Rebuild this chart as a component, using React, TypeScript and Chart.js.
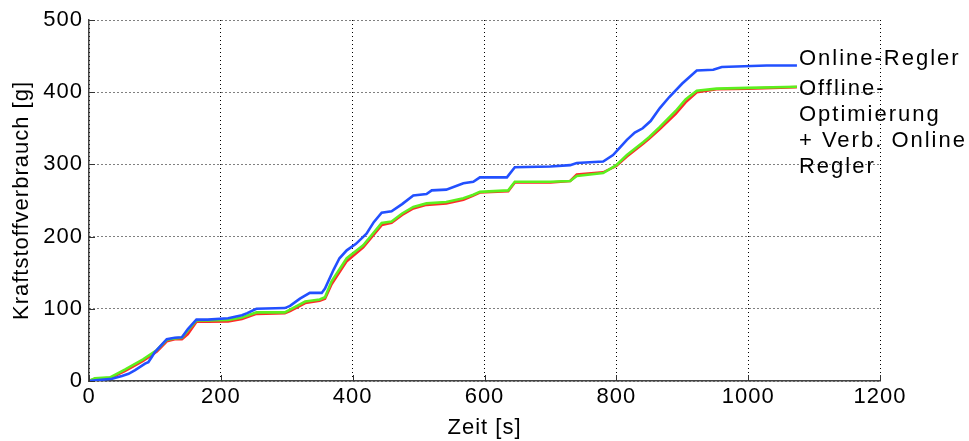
import React, { useEffect, useRef } from 'react';
import { Chart, registerables } from 'chart.js';

Chart.register(...registerables);

// Online-Regler (blue)
const timeOnline = [0, 10, 35, 50, 60, 70, 85, 90, 95, 100, 118, 130, 141, 150, 163, 180, 211, 232, 240, 254, 297, 305, 320, 335, 353, 358, 371, 380, 391, 405, 421, 432, 444, 459, 475, 492, 512, 520, 542, 568, 583, 593, 634, 646, 700, 730, 740, 780, 795, 806, 816, 828, 840, 852, 866, 880, 900, 922, 947, 960, 1028, 1074];
const fuelOnline = [0, 1, 3, 7, 10, 15, 24, 26, 33, 40, 58, 60, 60.5, 72, 85, 85, 87, 91, 94, 100, 101, 104, 114, 122, 122, 128, 154, 170, 181, 190, 204, 220, 233, 235, 245, 257, 259, 264, 265, 274, 276, 282, 282, 296, 297, 299, 302, 304, 313, 324, 334, 344, 350, 360, 378, 393, 412, 430, 431, 435, 437, 437];

// Offline-Optimierung (+ Verb. Online Regler) time base
const timeOffline = [0, 9, 32, 55, 82, 103, 118, 130, 141, 150, 163, 180, 211, 232, 254, 297, 305, 328, 350, 358, 368, 391, 416, 444, 459, 475, 492, 512, 542, 568, 583, 593, 636, 646, 700, 730, 740, 780, 800, 816, 841, 850, 866, 890, 905, 922, 952, 1000, 1074];
// green: Offline-Optimierung + Verb. Online Regler
const fuelOfflineVerb = [0, 3.7, 5, 16, 30, 43, 57, 59, 60, 70, 84, 84, 84.5, 88, 95, 95, 99, 110, 113, 116, 138, 170, 188, 219, 221, 232, 241, 246, 248, 253, 258, 262, 264, 276, 276, 277, 284, 288, 299, 313, 331, 338, 352, 374, 390, 402, 405, 406, 407.5];
// red: Offline-Optimierung
const fuelOffline = [0, 3, 4, 14, 28, 41, 55, 58, 58, 65, 82, 82, 82.5, 86, 93, 94, 97, 108, 111, 114, 134, 166, 185, 216, 219, 230, 239, 244, 246, 251, 257, 261, 263, 275, 275, 277, 286, 289, 298, 311, 329, 336, 349, 370, 386, 400, 404, 405, 407];

const xTicks = [0, 200, 400, 600, 800, 1000, 1200];
const yTicks = [0, 100, 200, 300, 400, 500];
const labelOnline = ['Online-Regler'];
const labelOfflineVerb = ['Offline-', 'Optimierung', '+ Verb. Online', 'Regler'];

const FONT = '"Liberation Sans", Arial, sans-serif';

const toPoints = (xs: number[], ys: number[]) => xs.map((x, i) => ({ x, y: ys[i] }));

const extras = {
  id: 'extras',
  beforeDraw(chart: any) {
    chart.ctx.letterSpacing = '1px';
  },
  afterDraw(chart: any) {
    const { ctx, chartArea } = chart;
    const xs = chart.scales.x;
    const ys = chart.scales.y;
    ctx.save();
    // inward ticks
    ctx.strokeStyle = '#333';
    ctx.lineWidth = 1;
    ctx.setLineDash([]);
    for (const t of xTicks) {
      const px = Math.round(xs.getPixelForValue(t)) + 0.5;
      ctx.beginPath();
      ctx.moveTo(px, chartArea.bottom);
      ctx.lineTo(px, chartArea.bottom - 6);
      ctx.stroke();
    }
    for (const t of yTicks) {
      const py = Math.round(ys.getPixelForValue(t)) + 0.5;
      ctx.beginPath();
      ctx.moveTo(chartArea.left, py);
      ctx.lineTo(chartArea.left + 6, py);
      ctx.stroke();
    }
    // text annotations at series ends
    ctx.font = `22px ${FONT}`;
    ctx.letterSpacing = '2px';
    ctx.fillStyle = '#000';
    ctx.textAlign = 'left';
    ctx.textBaseline = 'alphabetic';
    const bx = xs.getPixelForValue(timeOnline[timeOnline.length - 1]) + 2;
    const by = ys.getPixelForValue(fuelOnline[fuelOnline.length - 1]);
    labelOnline.forEach((s, i) => ctx.fillText(s, bx, by + i * 26));
    const gx = xs.getPixelForValue(timeOffline[timeOffline.length - 1]) + 2;
    const gy = ys.getPixelForValue(fuelOfflineVerb[fuelOfflineVerb.length - 1]) + 8;
    labelOfflineVerb.forEach((s, i) => ctx.fillText(s, gx, gy + i * 26));
    ctx.restore();
  },
};

export default function App() {
  const ref = useRef<HTMLCanvasElement | null>(null);
  useEffect(() => {
    document.body.style.margin = '0';
    const chart = new Chart(ref.current as HTMLCanvasElement, {
      type: 'line',
      data: {
        datasets: [
          {
            label: 'Online-Regler',
            data: toPoints(timeOnline, fuelOnline),
            borderColor: '#2250ff',
            borderWidth: 2.6,
            pointRadius: 0,
            tension: 0,
          },
          {
            label: 'Offline-Optimierung + Verb. Online Regler',
            data: toPoints(timeOffline, fuelOfflineVerb),
            borderColor: '#5cf01e',
            borderWidth: 2.6,
            pointRadius: 0,
            tension: 0,
          },
          {
            label: 'Offline-Optimierung',
            data: toPoints(timeOffline, fuelOffline),
            borderColor: '#ff2a2a',
            borderWidth: 2.6,
            pointRadius: 0,
            tension: 0,
          },
        ],
      },
      options: {
        animation: false,
        responsive: true,
        maintainAspectRatio: false,
        layout: { padding: { left: 0, right: 89, top: 20, bottom: 0 } },
        plugins: { legend: { display: false }, tooltip: { enabled: false } },
        scales: {
          x: {
            type: 'linear',
            min: 0,
            max: 1200,
            afterFit: (s: any) => { s.height = 60; },
            afterBuildTicks: (s: any) => { s.ticks = xTicks.map((v) => ({ value: v })); },
            ticks: { color: '#000', font: { family: FONT, size: 22 }, padding: 3, maxRotation: 0, callback: (v: any) => String(v) },
            grid: { color: '#000', lineWidth: 1, drawTicks: false },
            border: { display: true, color: '#444', width: 1.5, dash: [1, 3] },
            title: { display: true, text: 'Zeit [s]', color: '#000', font: { family: FONT, size: 22 }, padding: 0 },
          },
          y: {
            type: 'linear',
            min: 0,
            max: 500,
            afterFit: (s: any) => { s.width = 89; },
            afterBuildTicks: (s: any) => { s.ticks = yTicks.map((v) => ({ value: v })); },
            ticks: { color: '#000', font: { family: FONT, size: 22 }, padding: 6, callback: (v: any) => String(v) },
            grid: { color: '#000', lineWidth: 1, drawTicks: false },
            border: { display: true, color: '#444', width: 1.5, dash: [1, 3] },
            title: { display: true, text: 'Kraftstoffverbrauch [g]', color: '#000', font: { family: FONT, size: 22 }, padding: { top: 9, bottom: 0 } },
          },
        },
      },
      plugins: [extras],
    } as any);
    return () => chart.destroy();
  }, []);
  return (
    <div style={{ position: 'absolute', left: 0, top: 0, width: 969, height: 441 }}>
      <canvas ref={ref} />
    </div>
  );
}
